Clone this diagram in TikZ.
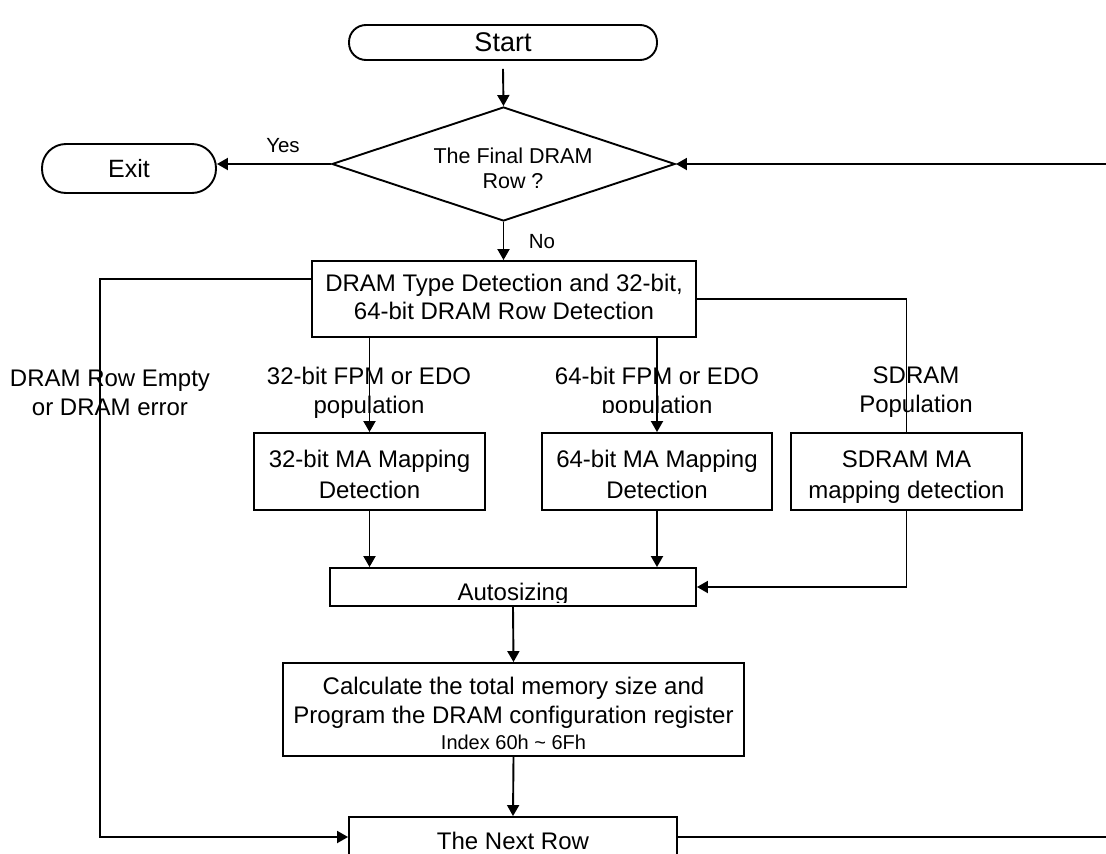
\documentclass[tikz,border=0pt]{standalone}
\usepackage{fontspec}
\setmainfont{Liberation Sans}
\usetikzlibrary{shapes.geometric,arrows.meta}
\newcommand{\fsz}[2]{\fontsize{#1}{#2}\selectfont}
\begin{document}
\begin{tikzpicture}[x=1pt,y=-1pt,
  box/.style={draw, line width=1.9pt, inner sep=0pt},
  pill/.style={box, rounded corners=17pt},
  conn/.style={line width=1.9pt},
  arr/.style={conn, -{Triangle[length=11pt,width=12pt]}},
  txt/.style={inner sep=0pt, align=center, font=\fsz{24}{28}},
  lab/.style={inner sep=0pt, align=center, font=\fsz{24}{29}},
  small/.style={inner sep=0pt, align=center, font=\fsz{20.5}{26}}]
\clip (0,0) rectangle (1106,854);
% terminals
\node[pill, minimum width=308pt, minimum height=35pt, font=\fsz{27}{30}] (start) at (503,42.5) {Start};
\node[pill, rounded corners=24pt, minimum width=174pt, minimum height=49pt, font=\fsz{25}{28}] (exit) at (129,168.5) {Exit};
% decision
\node[draw, diamond, aspect=3, line width=1.9pt, inner sep=0pt, minimum width=343pt, minimum height=114pt] (dia) at (503.5,164) {};
\node[small, font=\fsz{21.5}{25}] (diatext) at (513,168.5) {The Final DRAM\\Row ?};
% process boxes
\node[box, minimum width=384pt, minimum height=76pt] (dram) at (504,299) {};
\node[txt] (dramtext) at (504,296.5) {DRAM Type Detection and 32-bit,\\64-bit DRAM Row Detection};
\node[box, minimum width=231pt, minimum height=77pt] (ma32) at (369.5,471.5) {};
\node[txt, font=\fsz{24}{31}] (ma32text) at (369.5,474.5) {32-bit MA Mapping\\Detection};
\node[box, minimum width=230pt, minimum height=77pt] (ma64) at (657,471.5) {};
\node[txt, font=\fsz{24}{31}] (ma64text) at (657,474.5) {64-bit MA Mapping\\Detection};
\node[box, minimum width=231pt, minimum height=77pt] (sdma) at (906.5,471.5) {};
\node[txt, font=\fsz{24}{31}] (sdmatext) at (906.5,477.5) {SDRAM MA\\mapping detection};
\node[box, minimum width=366pt, minimum height=38pt] (auto) at (513,587) {};
\begin{scope}
  \clip (330,568) rectangle (696,602);
  \node[lab, anchor=base] (autotext) at (513,600) {Autosizing};
\end{scope}
\node[box, minimum width=461pt, minimum height=93pt] (calc) at (513.5,709.5) {};
\node[txt, font=\fsz{24}{29}] (calctext) at (513.5,713.5)
  {Calculate the total memory size and\\Program the DRAM configuration register\\[-3pt]{\fsz{20}{24}Index 60h \char"007E{} 6Fh}};
\node[box, minimum width=328pt, minimum height=40pt] (next) at (513,837) {};
\node[txt] (nexttext) at (513,841) {The Next Row};
% labels
\node[small] (yes) at (283,146) {Yes};
\node[small] (no) at (542,242) {No};
\node[lab] (l1) at (110,392.5) {DRAM Row Empty\\or DRAM error};
\node[lab] (l2) at (369,392.5) {32-bit FPM or EDO\\population};
\begin{scope}
  \clip (520,350) rectangle (800,412);
  \node[lab] (l3) at (657,392.5) {64-bit FPM or EDO\\population};
\end{scope}
\node[lab] (l4) at (916,392.5) {SDRAM\\Population};
% rails
\coordinate (leftrail) at (100,0);
\coordinate (rightrail) at (1130,0);
% connectors
\draw[arr] ([yshift=-8pt]start.south) -- (dia.north);
\draw[arr] (dia.west) -- (dia.west -| exit.east);
\draw[arr] (dia.south) -- (dia.south |- dram.north);
\draw[arr] ([yshift=20pt]dram.west) -- ([yshift=20pt]dram.west -| leftrail) |- (next.west);
\draw[conn] (dram.east) -| (sdma.north);
\draw[arr] (dram.south -| ma32.north) -- (ma32.north);
\draw[arr] (dram.south -| ma64.north) -- (ma64.north);
\draw[arr] (ma32.south) -- (ma32.south |- auto.north);
\draw[arr] (ma64.south) -- (ma64.south |- auto.north);
\draw[arr] (sdma.south) |- (auto.east);
\draw[arr] (auto.south) -- (calc.north);
\draw[arr] (calc.south) -- (next.north);
\draw[arr] (next.east) -- (next.east -| rightrail) |- (dia.east);
\end{tikzpicture}
\end{document}
